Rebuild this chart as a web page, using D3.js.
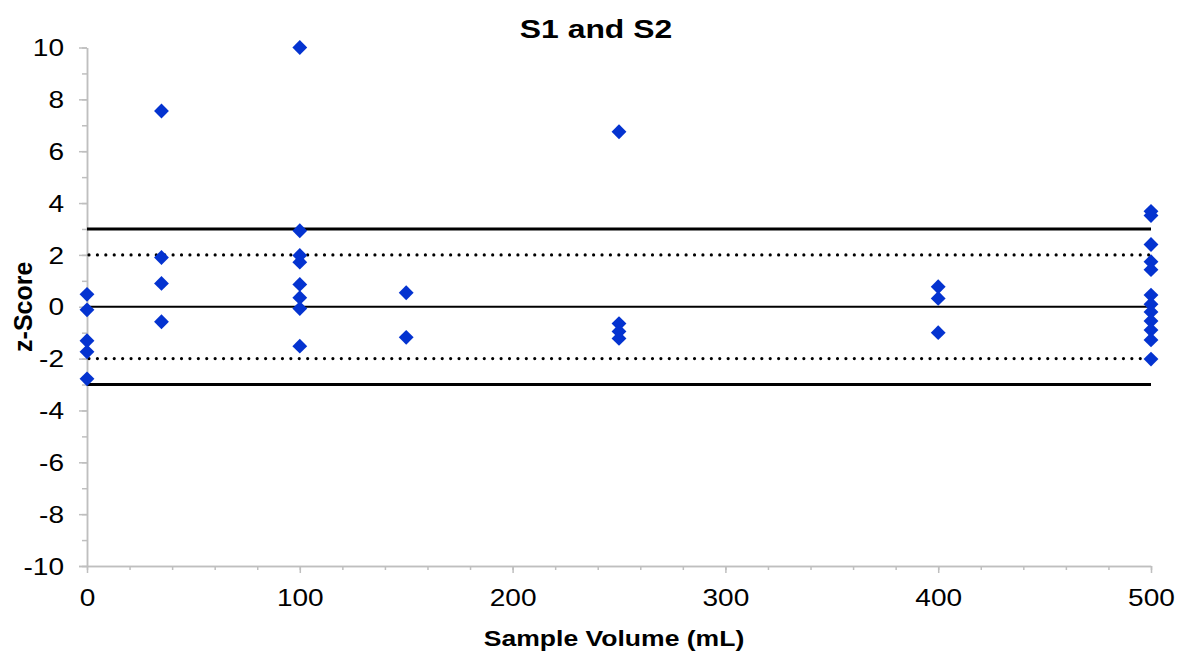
<!DOCTYPE html>
<html>
<head>
<meta charset="utf-8">
<script src="https://cdn.jsdelivr.net/npm/d3@7"></script>
<style>
  html, body { margin: 0; padding: 0; background: #fff; }
  svg { display: block; font-family: "Liberation Sans", Arial, sans-serif; }
</style>
</head>
<body>
<svg id="chart" width="1178" height="651"></svg>
<script>
// Sample volumes (mL) and z-scores for each reported result
const volumes = [
  0, 0, 0, 0, 0,
  35, 35, 35, 35,
  100, 100, 100, 100, 100, 100, 100, 100,
  150, 150,
  250, 250, 250, 250,
  400, 400, 400,
  500, 500, 500, 500, 500, 500, 500, 500, 500, 500, 500, 500
];
const zScores = [
  0.48, -0.12, -1.31, -1.74, -2.78,
  7.55, 1.9, 0.9, -0.58,
  10, 2.93, 1.98, 1.72, 0.86, 0.35, -0.07, -1.52,
  0.54, -1.18,
  6.75, -0.65, -0.95, -1.22,
  0.77, 0.32, -1.0,
  3.68, 3.52, 2.4, 1.74, 1.43, 0.45, 0.1, -0.2, -0.55, -0.9, -1.28, -2.02
];

// Limit lines: |z| = 3 (action), |z| = 2 (warning), z = 0
const solidLimits = [3, -3];
const dottedLimits = [2, -2];
const centerLine = [0];

const xTicks = [0, 100, 200, 300, 400, 500];
const xMinorTicks = d3.range(0, 501, 20);
const yTicks = [-10, -8, -6, -4, -2, 0, 2, 4, 6, 8, 10];
const yMinorTicks = d3.range(-10, 11, 1);

const titleText = "S1 and S2";
const xTitle = "Sample Volume (mL)";
const yTitle = "z-Score";

const svg = d3.select("#chart");
const x = d3.scaleLinear().domain([0, 500]).range([87, 1151]);
const y = d3.scaleLinear().domain([-10, 10]).range([566, 47.5]);
const axisColor = "#bfbfbf";
const fontFamily = "'Liberation Sans', Arial, sans-serif";

// Minor ticks
const gyMinor = svg.append("g").attr("transform", `translate(${x(0)},0)`)
  .call(d3.axisLeft(y).tickValues(yMinorTicks).tickSize(5).tickSizeOuter(0).tickFormat(""));
const gxMinor = svg.append("g").attr("transform", `translate(0,${y(-10)})`)
  .call(d3.axisBottom(x).tickValues(xMinorTicks).tickSize(4).tickSizeOuter(0).tickFormat(""));

// Major axes
const gy = svg.append("g").attr("transform", `translate(${x(0)},0)`)
  .call(d3.axisLeft(y).tickValues(yTicks).tickSize(8).tickSizeOuter(0).tickFormat(d => String(d)));
const gx = svg.append("g").attr("transform", `translate(0,${y(-10)})`)
  .call(d3.axisBottom(x).tickValues(xTicks).tickSize(7).tickSizeOuter(0).tickFormat(d => String(d)));

[gyMinor, gxMinor, gy, gx].forEach(g => {
  g.selectAll("path, line").attr("stroke", axisColor).attr("stroke-width", 1.5);
});
gx.select(".domain").attr("d", `M${x(0) - 8},0.5H${x(500)}`);

// Tick labels: slightly widened Arial-style digits
[gy, gx].forEach(g => {
  g.selectAll("text").attr("fill", "#000").style("font-size", "23px")
    .style("font-family", fontFamily).attr("x", 0).attr("y", 0).attr("dy", null);
});
gy.selectAll("text").attr("text-anchor", "end")
  .attr("transform", "translate(-23,8.2) scale(1.22,1)");
gx.selectAll("text").attr("text-anchor", "middle")
  .attr("transform", "translate(0,39.5) scale(1.22,1)");

// Reference lines
const lines = svg.append("g");
lines.selectAll("line.solid").data(solidLimits).join("line")
  .attr("x1", x(0)).attr("x2", x(500)).attr("y1", d => y(d)).attr("y2", d => y(d))
  .attr("stroke", "#000").attr("stroke-width", 3);
lines.selectAll("line.center").data(centerLine).join("line")
  .attr("x1", x(0)).attr("x2", x(500)).attr("y1", d => y(d)).attr("y2", d => y(d))
  .attr("stroke", "#000").attr("stroke-width", 2);
lines.selectAll("line.dot").data(dottedLimits).join("line")
  .attr("x1", x(0) + 2).attr("x2", x(500)).attr("y1", d => y(d)).attr("y2", d => y(d))
  .attr("stroke", "#000").attr("stroke-width", 3.2)
  .attr("stroke-linecap", "round").attr("stroke-dasharray", "0.01,8.4");

// Data markers: diamonds
const pts = volumes.map((v, i) => ({ v, z: zScores[i] }));
const diamond = d3.symbol().type(d3.symbolSquare).size(110);
svg.append("g").selectAll("path").data(pts).join("path")
  .attr("d", diamond)
  .attr("transform", d => `translate(${x(d.v)},${y(d.z)}) rotate(45)`)
  .attr("fill", "#0433d0");

// Titles
svg.append("text").attr("transform", "translate(596,38) scale(1.25,1)").attr("text-anchor", "middle")
  .style("font-size", "25.5px").style("font-weight", "bold").text(titleText);
svg.append("text").attr("transform", "translate(614,646) scale(1.18,1)").attr("text-anchor", "middle")
  .style("font-size", "22.5px").style("font-weight", "bold").text(xTitle);
svg.append("text").attr("transform", `translate(32,${y(0)}) rotate(-90)`).attr("text-anchor", "middle")
  .style("font-size", "25px").style("font-weight", "bold").text(yTitle);
</script>
</body>
</html>
